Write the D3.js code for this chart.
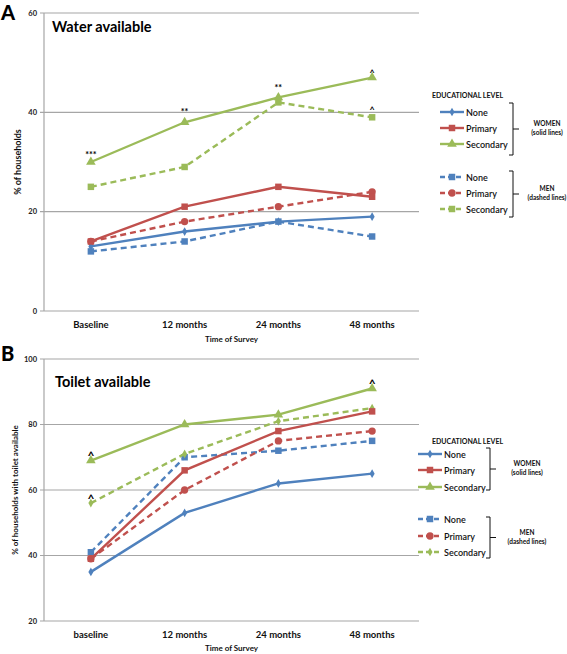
<!DOCTYPE html>
<html><head><meta charset="utf-8">
<script src="https://cdn.jsdelivr.net/npm/d3@7"></script>
<style>body{margin:0;background:#fff}svg{display:block}text{font-family:Lato,"Open Sans",sans-serif}</style>
</head><body>
<svg id="c" width="567" height="654"></svg>
<script>
const catsA = ["Baseline","12 months","24 months","48 months"];
const catsB = ["baseline","12 months","24 months","48 months"];
const seriesNames = ["None","Primary","Secondary"];
// Panel A: water available
const waterWomenNone = [13,16,18,19];
const waterWomenPrimary = [14,21,25,23];
const waterWomenSecondary = [30,38,43,47];
const waterMenNone = [12,14,18,15];
const waterMenPrimary = [14,18,21,24];
const waterMenSecondary = [25,29,42,39];
const waterTicks = [0,20,40,60];
const waterNotes = [["***",0,31.5],["**",1,40],["**",2,45],["^",3,49],["^",3,41.5]];
// Panel B: toilet available
const toiletWomenNone = [35,53,62,65];
const toiletWomenPrimary = [39,66,78,84];
const toiletWomenSecondary = [69,80,83,91];
const toiletMenNone = [41,70,72,75];
const toiletMenPrimary = [39,60,75,78];
const toiletMenSecondary = [56,71,81,85];
const toiletTicks = [20,40,60,80,100];
const toiletNotes = [["^",0,71.5],["^",0,58.5],["^",3,93.5]];

const colors = {None:"#4F81BD",Primary:"#C0504D",Secondary:"#9BBB59"};
const svg = d3.select("#c");

function marker(g, type, x, y, color, s){
  let sym, size;
  if(type==="diamond"){sym=d3.symbolDiamond; size=s||22;}
  else if(type==="square"){sym=d3.symbolSquare; size=s||42;}
  else if(type==="triangle"){sym=d3.symbolTriangle; size=s||40;}
  else {sym=d3.symbolCircle; size=s||42;}
  g.append("path").attr("d", d3.symbol(sym, size)()).attr("transform",`translate(${x},${y})`).attr("fill",color);
}

function panel(o){
  const g = svg.append("g");
  const x = d3.scaleBand().domain(o.cats).range([o.left,o.right]);
  const y = d3.scaleLinear().domain(o.domain).range([o.bottom,o.top]);
  g.selectAll(".grid").data(o.ticks).join("line")
    .attr("x1",o.left-4).attr("x2",o.right).attr("y1",d=>y(d)).attr("y2",d=>y(d))
    .attr("stroke","#a6a6a6").attr("stroke-width",1.2);
  g.append("line").attr("x1",o.left).attr("x2",o.left).attr("y1",y(o.domain[0])).attr("y2",y(o.domain[1]))
    .attr("stroke","#a6a6a6").attr("stroke-width",1.2);
  g.selectAll(".yt").data(o.ticks).join("text")
    .attr("x",o.left-7).attr("y",d=>y(d)+2.5).attr("text-anchor","end")
    .attr("font-size",7.5).attr("font-weight",700).attr("fill","#222").text(d=>d);
  g.selectAll(".xt").data(o.cats).join("text")
    .attr("x",d=>x(d)+x.bandwidth()/2).attr("y",o.xLabelY).attr("text-anchor","middle")
    .attr("font-size",9.5).attr("font-weight",700).attr("fill","#111").text(d=>d);
  g.append("text").attr("x",(o.left+o.right)/2).attr("y",o.xTitleY).attr("text-anchor","middle")
    .attr("font-size",8).attr("font-weight",700).attr("fill","#111").text("Time of Survey");
  g.append("text").attr("transform",`translate(${o.yTitleX},${o.yTitleY}) rotate(-90)`).attr("text-anchor","middle")
    .attr("font-size",o.yTitleSize).attr("font-weight",700).attr("fill","#111").text(o.yTitle);
  g.append("text").attr("x",o.titleX).attr("y",o.titleY).attr("font-size",14.5).attr("font-weight",700).attr("fill","#000").text(o.title);
  g.append("text").attr("x",o.letterX).attr("y",o.letterY).attr("font-size",20).attr("font-weight",900).attr("fill","#000").text(o.letter);
  const line = d3.line().x((d,i)=>x(o.cats[i])+x.bandwidth()/2).y(d=>y(d));
  o.series.forEach(s=>{
    g.append("path").attr("d",line(s.values)).attr("fill","none").attr("stroke",colors[s.name])
      .attr("stroke-width",2.4).attr("stroke-dasharray",s.dashed?"6,4":null);
    s.values.forEach((v,i)=>marker(g,s.marker,x(o.cats[i])+x.bandwidth()/2,y(v),colors[s.name]));
  });
  o.notes.forEach(n=>{
    g.append("text").attr("x",x(o.cats[n[1]])+x.bandwidth()/2).attr("y",y(n[2])+(n[0]==="^"?8:3)).attr("text-anchor","middle")
      .attr("font-size",n[0]==="^"?(o.letter==="B"?12:9):9).attr("font-weight",700).attr("fill","#000").text(n[0]);
  });
  const L = o.legend;
  g.append("text").attr("x",L.headX).attr("y",L.headY).attr("font-size",7).attr("font-weight",700).attr("fill","#111").text("EDUCATIONAL LEVEL");
  const groups = [{ys:L.womenY,label:["WOMEN","(solid lines)"],items:o.series.filter(s=>!s.dashed)},
                  {ys:L.menY,label:["MEN","(dashed lines)"],items:o.series.filter(s=>s.dashed)}];
  groups.forEach((gr,gi)=>{
    gr.items.forEach((s,i)=>{
      const yy = gr.ys[i];
      g.append("line").attr("x1",L.x1).attr("x2",L.x2).attr("y1",yy).attr("y2",yy).attr("stroke",colors[s.name])
        .attr("stroke-width",2.4).attr("stroke-dasharray",s.dashed?"5,3":null);
      marker(g,s.marker,(L.x1+L.x2)/2,yy,colors[s.name]);
      g.append("text").attr("x",L.x2+2).attr("y",yy+3.5).attr("font-size",9).attr("font-weight",600).attr("fill","#111").text(s.name);
    });
    const b = L.braces[gi];
    g.append("path").attr("d",`M${b.x-4},${b.y0}L${b.x},${b.y0}L${b.x},${b.y1}L${b.x-4},${b.y1}M${b.x},${(b.y0+b.y1)/2}L${b.x+6},${(b.y0+b.y1)/2}`)
      .attr("fill","none").attr("stroke","#111").attr("stroke-width",1);
    g.append("text").attr("x",b.lx).attr("y",(b.y0+b.y1)/2-3).attr("text-anchor","middle").attr("font-size",6.5).attr("font-weight",700).attr("fill","#111").text(gr.label[0]);
    g.append("text").attr("x",b.lx).attr("y",(b.y0+b.y1)/2+6).attr("text-anchor","middle").attr("font-size",6.5).attr("font-weight",700).attr("fill","#111").text(gr.label[1]);
  });
}

panel({
  letter:"A", letterX:1, letterY:20, title:"Water available", titleX:52, titleY:32,
  cats:catsA, domain:[0,60], ticks:waterTicks, left:44, right:419, top:13, bottom:311,
  xLabelY:328, xTitleY:342, yTitle:"% of households", yTitleX:21, yTitleY:162, yTitleSize:9,
  notes:waterNotes,
  series:[
    {name:"None",values:waterMenNone,dashed:true,marker:"square"},
    {name:"Primary",values:waterMenPrimary,dashed:true,marker:"circle"},
    {name:"Secondary",values:waterMenSecondary,dashed:true,marker:"square"},
    {name:"None",values:waterWomenNone,dashed:false,marker:"diamond"},
    {name:"Primary",values:waterWomenPrimary,dashed:false,marker:"square"},
    {name:"Secondary",values:waterWomenSecondary,dashed:false,marker:"triangle"}
  ],
  legend:{headX:432,headY:98,x1:440,x2:464,womenY:[112,128,144],menY:[177,193,209],
    braces:[{x:513,y0:103,y1:155,lx:547},{x:513,y0:171,y1:217,lx:547}]}
});

panel({
  letter:"B", letterX:1, letterY:361, title:"Toilet available", titleX:55, titleY:387,
  cats:catsB, domain:[20,100], ticks:toiletTicks, left:44, right:419, top:359, bottom:621,
  xLabelY:638, xTitleY:651, yTitle:"% of households with toilet available", yTitleX:18, yTitleY:490, yTitleSize:8,
  notes:toiletNotes,
  series:[
    {name:"None",values:toiletMenNone,dashed:true,marker:"square"},
    {name:"Primary",values:toiletMenPrimary,dashed:true,marker:"circle"},
    {name:"Secondary",values:toiletMenSecondary,dashed:true,marker:"diamond"},
    {name:"None",values:toiletWomenNone,dashed:false,marker:"diamond"},
    {name:"Primary",values:toiletWomenPrimary,dashed:false,marker:"square"},
    {name:"Secondary",values:toiletWomenSecondary,dashed:false,marker:"triangle"}
  ],
  legend:{headX:432,headY:444,x1:418,x2:442,womenY:[454,470,487],menY:[519,536,552],
    braces:[{x:490,y0:448,y1:490,lx:527},{x:490,y0:517,y1:558,lx:527}]}
});
</script>
</body></html>
